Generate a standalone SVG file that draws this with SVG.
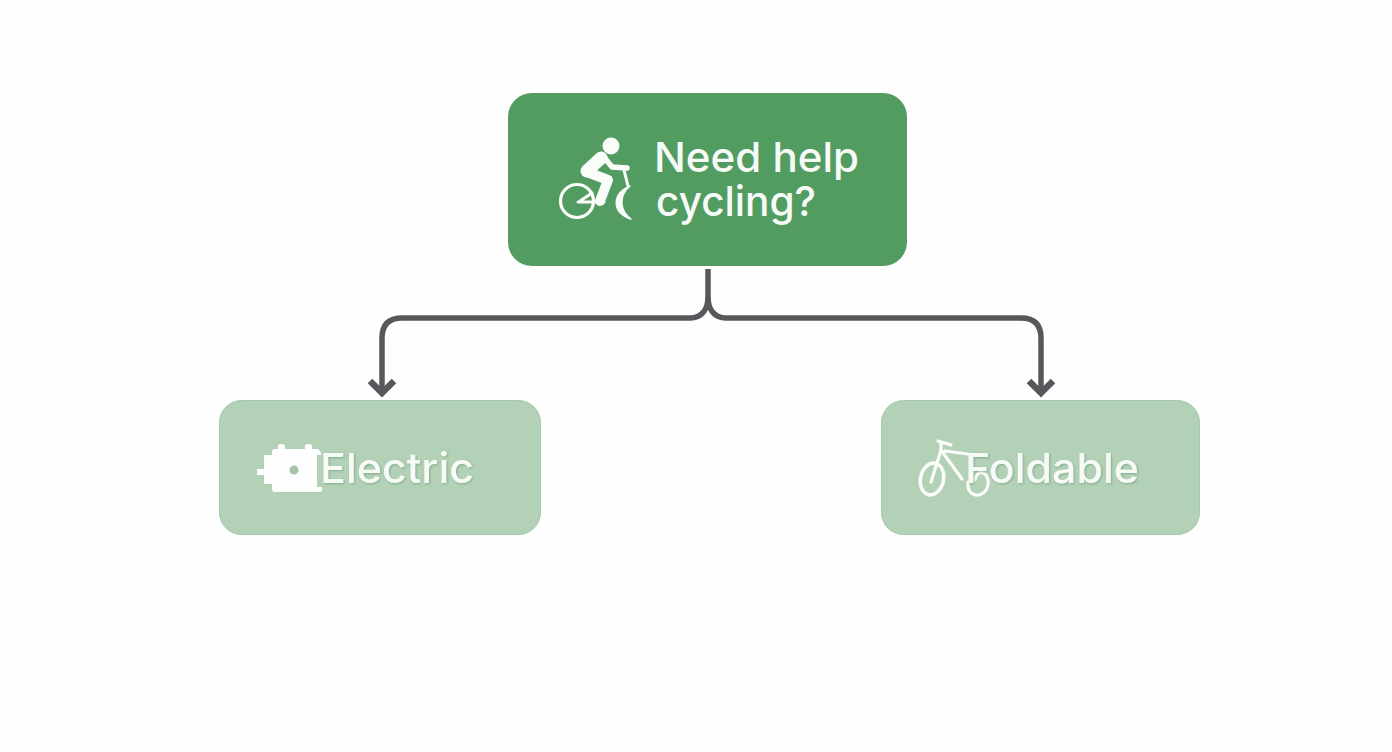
<svg xmlns="http://www.w3.org/2000/svg" width="1392" height="752" viewBox="0 0 1392 752">
<defs>
<filter id="soft" x="-10%" y="-20%" width="120%" height="150%"><feDropShadow dx="1" dy="1" stdDeviation="1" flood-color="#5f8a68" flood-opacity="0.55"/></filter>
</defs>
<style>
.lbl{font-family:"Inter","Noto Sans","Liberation Sans",sans-serif;fill:#f7fbf7;font-weight:500;font-size:41px}
.wire{fill:none;stroke:#58585c;stroke-width:5.5}
.head{fill:none;stroke:#58585c;stroke-width:6.5}
.ic{fill:none;stroke:#fafdfa;stroke-linecap:round;stroke-linejoin:round}
.soft{fill:#b2d1b6;stroke:#a6c8ac;stroke-width:1}
</style>
<rect width="1392" height="752" fill="#fefefe"/>
<g id="connectors">
<path class="wire" d="M708 269 V297 C708 309 702 318 690 318 H402 Q382 318 382 338 V393"/>
<path class="wire" d="M708 297 C708 309 714 318 726 318 H1021 Q1041 318 1041 338 V393"/>
<path class="head" d="M370 381 L382 393 L394 381"/>
<path class="head" d="M1029 381 L1041 393 L1053 381"/>
</g>
<g id="node-help">
<rect x="508" y="93" width="399" height="173" rx="24" fill="#529c62"/>
<g>
<circle cx="611" cy="146" r="8.5" fill="#fafdfa"/>
<path class="ic" stroke-width="13" d="M601 158 L587 171"/>
<path class="ic" stroke-width="10" d="M587 172 L608 180 L600 201"/>
<path class="ic" stroke-width="5.5" d="M603 156 L612 167 L627 168"/>
<path class="ic" stroke-width="3" d="M624 170 L628 186 M580 201 L592 193 M578 202 H604"/>
<circle class="ic" stroke-width="3.2" cx="577" cy="201" r="16.5"/>
<path fill="#fafdfa" d="M630 186 C612 194 611 212 631 219 C620 211 618 196 630 186 Z" stroke="#fafdfa" stroke-width="1.5" stroke-linejoin="round"/>
</g>
<text class="lbl" x="654" y="172" textLength="205" lengthAdjust="spacingAndGlyphs">Need help</text>
<text class="lbl" x="656" y="216" textLength="160" lengthAdjust="spacingAndGlyphs">cycling?</text>
</g>
<g id="node-electric">
<rect class="soft" x="219.500" y="400.500" width="321" height="134" rx="22"/>
<path fill="#fefefe" d="M278 449 V445 Q281 443 285 445 V449 H305 V445 Q308 443 312 445 V449 H318 Q321 451 321 455 H317 V487 H322 V490 Q322 492 319 492 H275 Q272 492 272 489 V484 H264 V475 H257 V469 H264 V455 H272 V451 Q272 449 275 449 Z"/>
<circle cx="294" cy="470" r="4.5" fill="#a3c6a8"/>
<text class="lbl" x="320" y="483" textLength="154" lengthAdjust="spacingAndGlyphs" filter="url(#soft)">Electric</text>
</g>
<g id="node-foldable">
<rect class="soft" x="881.500" y="400.500" width="318" height="134" rx="22"/>
<g>
<ellipse class="ic" stroke-width="3.6" cx="932" cy="479" rx="11.5" ry="16" transform="rotate(12 932 479)"/>
<path class="ic" stroke-width="3.2" d="M931 482 L941 450 L962 479 M938 441 L951 445 M941 443 L941 451 M945 451 L968 454"/>
<path class="ic" stroke-width="3.2" d="M968 482 C967 491 972 496 979 495 C987 493 991 483 986 475 C982 471 976 472 975 480"/>
</g>
<text class="lbl" x="965" y="483" textLength="174" lengthAdjust="spacingAndGlyphs" filter="url(#soft)">Foldable</text>
</g>
</svg>
